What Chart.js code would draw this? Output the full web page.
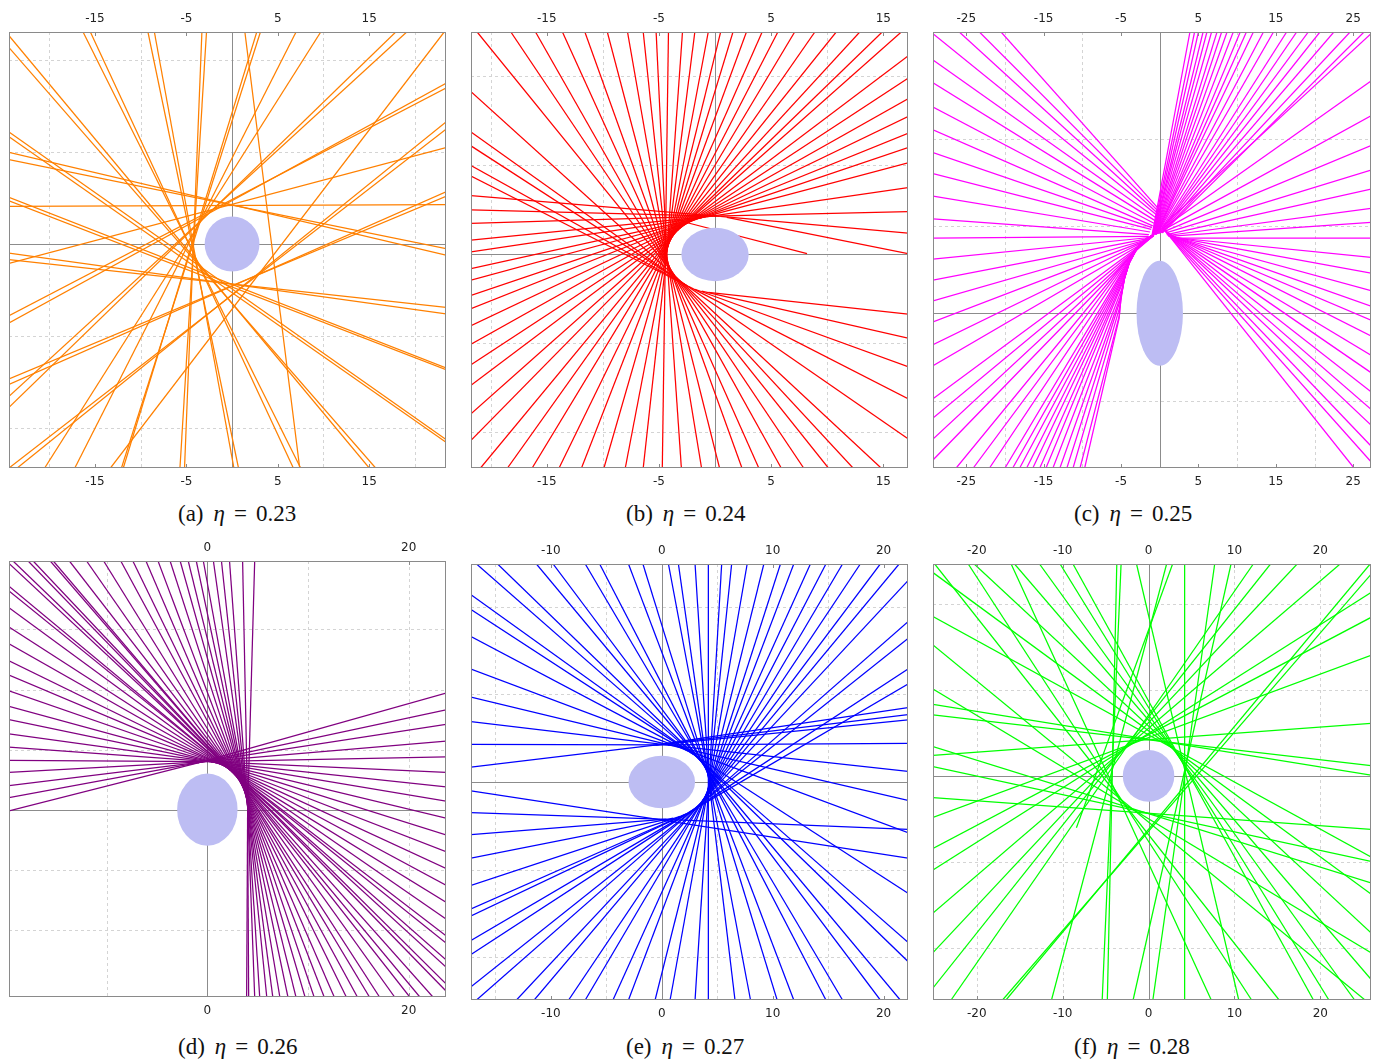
<!DOCTYPE html>
<html>
<head>
<meta charset="utf-8">
<script src="https://cdn.jsdelivr.net/npm/chart.js@4.4.1/dist/chart.umd.min.js"></script>
<style>
  body { margin: 0; background: #fff; width: 1379px; height: 1061px; position: relative; overflow: hidden; }
  .cap { position: absolute; font-family: "Liberation Serif", "DejaVu Serif", serif; font-size: 23px; line-height: 26px; white-space: nowrap; color: #111; }
  .cap .eta { font-style: italic; margin-left: 10px; }
  .cap .eq { margin-left: 9px; margin-right: 9px; }
</style>
</head>
<body>
<script>
// panel labels and parameter values
const panelKeys = ['a', 'b', 'c', 'd', 'e', 'f'];
const etaValues = ['0.23', '0.24', '0.25', '0.26', '0.27', '0.28'];

// axis limits (data units)
const xLimitsA = [-24.4, 23.4], yLimitsA = [-24.4, 23.1];
const xLimitsB = [-21.75, 17.2], yLimitsB = [-24.0, 25.0];
const xLimitsC = [-29.3, 27.3], yLimitsC = [-8.86, 16.1];
const xLimitsD = [-19.7, 23.7], yLimitsD = [-15.6, 20.7];
const xLimitsE = [-17.2, 22.2], yLimitsE = [-24.9, 24.9];
const xLimitsF = [-25.1, 25.9], yLimitsF = [-26.0, 24.6];

// tick labels (top and bottom frame)
const tickLabelsA = [-15, -5, 5, 15];
const tickLabelsB = [-15, -5, 5, 15];
const tickLabelsC = [-25, -15, -5, 5, 15, 25];
const tickLabelsD = [0, 20];
const tickLabelsE = [-10, 0, 10, 20];
const tickLabelsF = [-20, -10, 0, 10, 20];

// dashed grid lines
const gridXA = [-20, -10, 10, 20], gridYA = [-20, -10, 10, 20];
const gridXB = [-20, -10, 10], gridYB = [-20, -10, 10, 20];
const gridXC = [-20, -10, 10, 20], gridYC = [-5, 5, 10];
const gridXD = [-10, 10, 20], gridYD = [-10, -5, 5, 10, 15];
const gridXE = [-15, -5, 5, 15], gridYE = [-20, -10, 10, 20];
const gridXF = [-20, -10, 10, 20], gridYF = [-20, -10, 10, 20];

// shadow radius
const holeRadius = [3.0, 3.0, 3.0, 3.0, 3.0, 3.0];

// rays: flat lists x1,y1,x2,y2,...
const raysA = [
  [-16.3,23.1, 7.5,-24.4], [-15.5,23.1, 6.7,-24.4], [-9.2,23.1, 0.7,-24.4], [-8.5,23.1, 0.2,-24.4],
  [-3.3,23.1, -5.2,-24.4], [-2.8,23.1, -5.7,-24.4], [1.4,23.1, 7.4,-24.4], [2.7,23.1, -11.9,-24.4],
  [3.1,23.1, -12.1,-24.4], [7.0,23.1, -17.2,-24.4], [9.7,23.1, -20.5,-24.4], [17.9,23.1, -24.4,-17.8],
  [19.1,23.1, -24.4,-16.6], [23.2,23.1, -13.3,-24.4], [-24.4,22.7, 15.0,-24.4], [-24.4,21.4, 15.7,-24.4],
  [-24.4,12.2, 23.4,-21.3], [-24.4,11.7, 23.4,-21.6], [-24.4,5.1, 23.4,-13.5], [-24.4,4.7, 23.4,-13.7],
  [-24.4,4.1, 23.4,4.3], [-24.4,-1.0, 23.4,-7.6], [-24.4,-1.7, 23.4,-6.9], [-24.4,-2.1, 23.4,10.5],
  [-24.4,-7.8, 23.4,17.0], [-24.4,-8.6, 23.4,17.5], [23.4,13.3, -23.5,-24.4], [23.4,12.5, -24.4,-24.4],
  [23.4,5.7, -24.4,-15.3], [23.4,5.2, -24.4,-14.7], [-24.4,9.2, 23.4,-0.5], [-24.4,10.0, 23.4,-1.2]
];

const raysB = [
  [17.2,0.1, 1.05,4.17], [17.2,2.4, 0.46,4.28], [17.2,4.8, -0.14,4.30], [17.2,7.5, -0.78,4.23],
  [17.2,10.3, -1.36,4.08], [17.2,12.0, -1.68,3.96], [17.2,13.6, -1.94,3.84], [17.2,15.5, -2.23,3.68],
  [17.2,17.5, -2.49,3.50], [17.2,19.8, -2.74,3.32], [17.2,22.3, -2.97,3.11],
  [16.6,25, -3.20,2.87], [14.9,25, -3.33,2.72], [12.9,25, -3.47,2.54], [10.8,25, -3.63,2.31],
  [8.9,25, -3.76,2.08], [7.1,25, -3.88,1.85], [5.6,25, -3.98,1.63], [4.2,25, -4.06,1.42],
  [2.8,25, -4.13,1.20], [1.6,25, -4.18,1.01], [0.5,25, -4.22,0.82], [-0.6,25, -4.25,0.64],
  [-1.8,25, -4.28,0.43], [-2.9,25, -4.29,0.25],
  [-21.75,6.6, 0.43,4.28], [-21.75,5.0, 0.13,4.30], [-21.75,3.5, -0.17,4.30], [-21.75,1.6, -0.54,4.27],
  [-21.75,0.3, -0.79,4.23], [-21.75,-1.6, -1.16,4.14], [-21.75,-2.9, -1.39,4.07], [-21.75,-4.6, -1.69,3.95],
  [-21.75,-6.1, -1.94,3.84], [-21.75,-8.0, -2.22,3.68], [-21.75,-10.1, -2.49,3.50], [-21.75,-12.4, -2.75,3.30],
  [-21.75,-14.7, -2.97,3.11], [-21.75,-17.9, -3.23,2.84], [-21.75,-20.9, -3.41,2.62],
  [-20.9,-24, -3.59,2.36], [-18.5,-24, -3.74,2.12], [-16.3,-24, -3.87,1.87], [-13.9,-24, -4.00,1.57],
  [-11.9,-24, -4.10,1.29], [-9.9,-24, -4.19,0.97], [-8.0,-24, -4.25,0.66], [-6.4,-24, -4.28,0.38],
  [-4.15,25, -4.7,-24],
  [-5.25,25, -4.30,-0.17], [-6.4,25, -4.28,-0.36], [-7.8,25, -4.26,-0.59], [-9.6,25, -4.21,-0.88],
  [-11.6,25, -4.14,-1.18], [-13.6,25, -4.05,-1.46], [-16.0,25, -3.92,-1.77], [-18.2,25, -3.79,-2.03],
  [-21.2,25, -3.61,-2.33],
  [-21.75,18.3, -3.22,-2.84], [-21.75,13.75, -2.87,-3.20], [-21.75,12.2, -2.72,-3.33],
  [-21.75,10.0, -2.47,-3.52], [-21.75,8.8, -2.31,-3.63],
  [-3.0,-24, -4.29,-0.23], [-1.2,-24, -4.26,-0.55], [0.4,-24, -4.22,-0.84], [2.4,-24, -4.13,-1.19],
  [3.9,-24, -4.06,-1.43], [5.9,-24, -3.93,-1.73], [7.9,-24, -3.80,-2.02], [10.1,-24, -3.64,-2.30],
  [12.3,-24, -3.47,-2.55], [14.8,-24, -3.27,-2.79],
  [17.2,-20.7, -2.83,-3.24], [17.2,-16.2, -2.33,-3.61], [17.2,-12.6, -1.79,-3.91],
  [17.2,-9.4, -1.19,-4.13], [17.2,-6.7, -0.59,-4.26],
  [8.2,0.1, -3.5,3.9]
];

const raysC = [
  [-29.3,16.0, -0.3,5.6], [-29.3,14.5, -0.45,5.45], [-29.3,13.2, -0.6,5.3], [-29.3,11.8, -0.75,5.15],
  [-29.3,10.5, -0.9,5.0], [-29.3,9.2, -1.0,4.9], [-29.3,8.0, -1.1,4.8], [-29.3,6.7, -1.25,4.65],
  [-29.3,5.4, -1.4,4.5], [-29.3,4.3, -1.5,4.4], [-25.9,16.1, -0.2,5.7], [-23.3,16.1, -0.1,5.8],
  [-20.5,16.1, 0.0,5.9],
  [27.3,4.3, 1.5,4.3], [27.3,3.2, 1.4,4.35], [27.3,2.3, 1.3,4.4], [27.3,1.3, 1.2,4.45],
  [27.3,0.4, 1.1,4.5], [27.3,-0.4, 1.0,4.55], [27.3,-1.3, 0.9,4.6], [27.3,-2.4, 0.8,4.65],
  [27.3,-3.4, 0.7,4.7], [27.3,-4.5, 0.6,4.75], [27.3,-5.5, 0.5,4.8], [27.3,-6.4, 0.45,4.85],
  [27.3,-7.6, 0.35,4.9], [27.3,-8.5, 0.3,4.9], [25.1,-8.86, 0.2,5.0],
  [-9.7,-8.86, -5.25,-0.3, -5.05,0.9, -4.65,1.9, -3.95,2.9, -2.95,3.7, -1.85,4.2, -0.85,4.45],
  [-10.3,-8.86, -5.2,-0.1, -5.0,0.95, -4.6,1.95, -3.9,2.95, -2.9,3.75, -1.8,4.25, -0.8,4.5],
  [-11.2,-8.86, -5.1,0.45, -4.9,1.1, -4.55,2.0, -3.85,3.0, -2.85,3.75, -1.8,4.25, -0.8,4.5],
  [-12.0,-8.86, -5.0,0.9, -4.6,1.9, -3.95,2.9, -2.95,3.7, -1.85,4.2, -0.85,4.45],
  [-12.9,-8.86, -4.95,1.1, -4.55,2.0, -3.9,2.95, -2.9,3.75, -1.8,4.25, -0.75,4.5],
  [-13.8,-8.86, -4.8,1.5, -4.5,2.1, -3.85,3.0, -2.85,3.8, -1.75,4.25, -0.75,4.5],
  [-14.7,-8.86, -4.65,1.9, -3.95,2.9, -2.95,3.7, -1.85,4.2, -0.85,4.45],
  [-15.5,-8.86, -4.5,2.15, -3.9,2.95, -2.9,3.75, -1.8,4.25, -0.8,4.5],
  [-16.4,-8.86, -4.3,2.45, -3.85,3.0, -2.85,3.8, -1.75,4.25, -0.75,4.5],
  [-17.2,-8.86, -4.1,2.7, -2.95,3.7, -1.85,4.2, -0.85,4.45],
  [-18.1,-8.86, -3.95,2.9, -2.9,3.75, -1.8,4.25, -0.8,4.5],
  [-19.0,-8.86, -3.8,3.1, -2.85,3.8, -1.75,4.25, -0.75,4.5],
  [-20.0,-8.86, -3.6,3.3, -2.9,3.75, -1.8,4.25, -0.8,4.5],
  [-22.0,-8.86, -3.2,3.6, -1.85,4.2, -0.85,4.45],
  [-24.1,-8.86, -2.8,3.85, -1.8,4.25, -0.8,4.5],
  [-26.3,-8.86, -2.4,4.05, -1.75,4.25, -0.75,4.5],
  [-29.3,3.1, -1.0,4.35], [-29.3,1.9, -1.2,4.3, -0.8,4.45], [-29.3,0.7, -1.4,4.25, -0.8,4.45],
  [-29.3,-0.5, -1.6,4.2, -0.8,4.45], [-29.3,-1.8, -1.8,4.15, -0.8,4.45], [-29.3,-3.0, -2.0,4.05, -0.8,4.45],
  [-29.3,-4.9, -2.3,3.95, -0.8,4.45], [-29.3,-6.0, -2.5,3.85, -0.8,4.45], [-29.3,-7.2, -2.7,3.75, -0.8,4.45],
  [-29.3,-8.4, -2.9,3.65, -0.8,4.45],
  [3.9,16.1, -1.0,4.45], [4.5,16.1, -0.95,4.45], [5.0,16.1, -0.9,4.45], [5.6,16.1, -0.85,4.45],
  [6.1,16.1, -0.8,4.5], [6.7,16.1, -0.75,4.5], [7.4,16.1, -0.7,4.5], [8.0,16.1, -0.65,4.5],
  [8.7,16.1, -0.6,4.5], [9.5,16.1, -0.55,4.5], [10.4,16.1, -0.5,4.5], [11.2,16.1, -0.45,4.5],
  [12.1,16.1, -0.4,4.55], [13.4,16.1, -0.35,4.55], [14.7,16.1, -0.3,4.55], [16.4,16.1, -0.2,4.55],
  [17.7,16.1, -0.1,4.55], [19.2,16.1, 0.0,4.6], [20.7,16.1, 0.1,4.6], [22.5,16.1, 0.2,4.6],
  [24.6,16.1, 0.3,4.6], [26.4,16.1, 0.35,4.6],
  [27.3,16.0, 0.4,5.0], [27.3,13.3, 0.5,4.9], [27.3,11.3, 0.6,4.8], [27.3,9.6, 0.7,4.7],
  [27.3,8.2, 0.8,4.6], [27.3,7.1, 0.9,4.5], [27.3,6.0, 1.0,4.45], [27.3,5.2, 1.1,4.4]
];

const raysD = [
  [-19.7,20.5, 2.46,3.15], [-19.7,18.6, 2.29,3.28], [-19.7,18.2, 2.24,3.31], [-19.7,16.8, 2.10,3.41],
  [-19.7,15.2, 1.91,3.52], [-19.7,13.8, 1.72,3.61], [-19.7,12.4, 1.52,3.70], [-19.7,11.2, 1.34,3.77],
  [-19.7,9.9, 1.12,3.84], [-19.7,8.6, 0.89,3.90], [-19.7,7.5, 0.69,3.94], [-19.7,6.3, 0.46,3.97],
  [-19.7,5.2, 0.24,3.99], [-19.7,4.1, 0.02,4.0], [-19.7,3.1, -0.19,4.0], [-19.7,2.0, -0.41,3.98],
  [-19.7,1.0, -0.61,3.95], [-19.7,-0.1, -0.83,3.91],
  [-19.3,20.7, 2.51,3.11], [-17.8,20.7, 2.62,3.02], [-17.3,20.7, 2.66,2.99], [-15.6,20.7, 2.78,2.87],
  [-15.3,20.7, 2.80,2.85], [-13.7,20.7, 2.93,2.72], [-12.0,20.7, 3.08,2.56], [-10.3,20.7, 3.22,2.38],
  [-8.6,20.7, 3.36,2.17], [-7.4,20.7, 3.46,2.01], [-6.1,20.7, 3.56,1.82], [-4.9,20.7, 3.65,1.63],
  [-3.7,20.7, 3.73,1.44], [-2.7,20.7, 3.80,1.26], [-1.9,20.7, 3.84,1.12], [-1.1,20.7, 3.88,0.97],
  [-0.4,20.7, 3.91,0.85], [0.6,20.7, 3.95,0.65], [1.4,20.7, 3.97,0.50], [2.2,20.7, 3.98,0.35],
  [3.5,20.7, 4.0,0.1], [4.7,20.7, 4.0,-0.13],
  [23.7,9.7, -0.92,3.89], [23.7,8.3, -0.70,3.94], [23.7,7.1, -0.52,3.97], [23.7,5.7, -0.29,3.99],
  [23.7,4.4, -0.06,4.0], [23.7,3.1, 0.15,4.0], [23.7,1.9, 0.36,3.98], [23.7,0.7, 0.56,3.96],
  [23.7,-0.7, 0.79,3.92], [23.7,-2.1, 1.02,3.87], [23.7,-3.5, 1.24,3.80], [23.7,-4.9, 1.45,3.73],
  [23.7,-6.3, 1.65,3.65], [23.7,-7.7, 1.83,3.56], [23.7,-9.1, 2.01,3.46], [23.7,-10.5, 2.17,3.36],
  [23.7,-11.1, 2.23,3.32], [23.7,-12.5, 2.37,3.22], [23.7,-13.1, 2.43,3.18], [23.7,-14.5, 2.56,3.07],
  [23.7,-15.1, 2.61,3.03],
  [3.9,-15.6, 4.0,-0.03], [4.1,-15.6, 4.0,0.02], [4.7,-15.6, 4.0,0.18], [5.2,-15.6, 3.99,0.30],
  [5.9,-15.6, 3.97,0.47], [6.5,-15.6, 3.95,0.62], [7.2,-15.6, 3.92,0.79], [8.0,-15.6, 3.88,0.96],
  [8.8,-15.6, 3.84,1.14], [9.7,-15.6, 3.77,1.32], [10.6,-15.6, 3.71,1.50], [11.6,-15.6, 3.63,1.67],
  [12.6,-15.6, 3.55,1.84], [13.8,-15.6, 3.45,2.02], [14.9,-15.6, 3.35,2.18], [16.1,-15.6, 3.25,2.33],
  [17.1,-15.6, 3.17,2.44], [18.6,-15.6, 3.04,2.60], [20.1,-15.6, 2.92,2.73], [21.1,-15.6, 2.84,2.81],
  [22.4,-15.6, 2.74,2.91]
];

const raysE = [
  [-16.7,24.9, 3.16,2.84], [-14.8,24.9, 3.30,2.68], [-11.3,24.9, 3.55,2.34], [-9.8,24.9, 3.66,2.16],
  [-6.9,24.9, 3.85,1.80], [-5.6,24.9, 3.93,1.61], [-3.0,24.9, 4.07,1.21], [-1.7,24.9, 4.13,1.01],
  [0.6,24.9, 4.20,0.62], [1.5,24.9, 4.22,0.47], [3.0,24.9, 4.24,0.21], [5.4,24.9, 4.25,-0.19],
  [6.3,24.9, 4.24,-0.35], [7.7,24.9, 4.21,-0.58], [9.2,24.9, 4.17,-0.82], [10.7,24.9, 4.12,-1.05],
  [11.9,24.9, 4.07,-1.21], [13.4,24.9, 4.00,-1.43], [14.8,24.9, 3.93,-1.61], [16.3,24.9, 3.85,-1.80],
  [17.9,24.9, 3.76,-1.98], [19.7,24.9, 3.65,-2.17], [21.4,24.9, 3.55,-2.33],
  [4.2,24.9, 4.2,-24.9],
  [-16.7,-24.9, 3.16,-2.84], [-13.1,-24.9, 3.42,-2.53], [-11.5,-24.9, 3.54,-2.36], [-8.4,-24.9, 3.76,-1.99],
  [-6.9,-24.9, 3.85,-1.80], [-4.4,-24.9, 4.00,-1.43], [-3.0,-24.9, 4.07,-1.21], [-0.6,-24.9, 4.17,-0.83],
  [0.75,-24.9, 4.21,-0.60], [3.0,-24.9, 4.24,-0.21], [6.6,-24.9, 4.23,0.39], [8.0,-24.9, 4.20,0.63],
  [10.4,-24.9, 4.13,1.0], [11.9,-24.9, 4.07,1.21], [14.8,-24.9, 3.93,1.61], [16.3,-24.9, 3.85,1.80],
  [19.7,-24.9, 3.65,2.17], [21.5,-24.9, 3.55,2.34],
  [-17.2,21.4, 2.86,3.14], [-17.2,19.7, 2.71,3.27], [-17.2,16.6, 2.36,3.53], [-17.2,12.9, 1.83,3.84],
  [-17.2,9.7, 1.24,4.07], [-17.2,6.9, 0.64,4.20], [-17.2,4.3, 0.0,4.25], [-17.2,1.7, -0.64,4.20],
  [-17.2,-1.0, -0.81,-4.17], [-17.2,-3.5, -0.19,-4.25], [-17.2,-6.0, 0.42,-4.23], [-17.2,-8.7, 1.04,-4.12],
  [-17.2,-11.8, 1.65,-3.92], [-17.2,-14.5, 2.07,-3.71], [-17.2,-15.3, 2.20,-3.64], [-17.2,-18.1, 2.54,-3.41],
  [-17.2,-19.7, 2.71,-3.27], [-17.2,-23.4, 3.02,-2.99],
  [22.2,23.0, 3.42,-2.52], [22.2,18.3, 3.16,-2.84], [22.2,16.4, 3.03,-2.98], [22.2,12.9, 2.71,-3.27],
  [22.2,11.2, 2.53,-3.41], [22.2,8.5, -0.78,4.18], [22.2,7.7, -0.64,4.20], [22.2,7.1, -0.53,4.22],
  [22.2,4.4, -0.03,4.25], [22.2,1.2, 0.58,4.21], [22.2,-2.1, 1.20,4.08], [22.2,-5.4, -0.22,-4.24],
  [22.2,-5.8, 1.82,3.84], [22.2,-8.7, -0.82,-4.17], [22.2,-12.7, 2.70,3.28], [22.2,-18.3, 3.16,2.84],
  [22.2,-20.5, 3.29,2.69]
];

const raysF = [
  [4.2,24.6, 4.2,-26.0], [-3.7,24.6, -4.8,-26.0], [-3.2,24.6, -5.4,-26.0], [-1.4,24.6, 10.5,-26.0],
  [2.1,24.6, -11.3,-26.0], [2.8,24.6, -8.4,-6.0], [7.7,24.6, 0.5,-26.0], [-8.8,24.6, 19.2,-26.0],
  [-10.3,24.6, 21.0,-26.0], [-12.7,24.6, 24.0,-26.0], [-15.6,24.6, 25.9,-23.6], [-20.3,24.6, 25.9,-18.2],
  [-24.9,24.6, 15.2,-26.0], [-25.1,23.6, 25.9,-13.7], [-25.1,18.5, 25.9,-9.4], [-25.1,15.2, 25.2,-26.0],
  [-25.1,10.1, 25.9,-20.5], [-25.1,8.3, 25.9,0.1], [-25.1,7.1, 25.9,1.2], [-25.1,3.4, 25.9,-12.4],
  [-25.1,2.4, 25.9,6.1], [-25.1,1.1, 25.9,-9.9], [-25.1,-2.5, 25.9,-6.2], [-25.1,-4.8, 25.9,14.0],
  [-25.1,-8.4, 25.9,18.4], [-25.1,-10.9, 25.9,21.3], [25.8,24.6, -16.6,-26.0], [12.2,24.6, -23.0,-26.0],
  [14.2,24.6, -25.1,-24.6], [17.3,24.6, -25.1,-20.5], [22.3,24.6, -25.1,-15.9], [-16.0,24.6, 7.3,-26.0],
  [-21.0,24.6, 12.0,-26.0], [-17.0,-26.0, 25.9,23.4], [-1.8,-26.0, 9.6,24.6]
];

// styles and layout (kept apart from the data)
const lineColors = ['#ff8000', '#ff0000', '#ff00ff', '#800080', '#0000ff', '#00ff00'];
const plotBoxes = [
  { left: 9, top: 32, w: 437, h: 436 },
  { left: 471, top: 32, w: 437, h: 436 },
  { left: 933, top: 32, w: 438, h: 436 },
  { left: 9, top: 561, w: 437, h: 436 },
  { left: 471, top: 564, w: 437, h: 436 },
  { left: 933, top: 564, w: 438, h: 436 }
];
const captionPos = [
  { left: 178, top: 501 }, { left: 626, top: 501 }, { left: 1074, top: 501 },
  { left: 178, top: 1034 }, { left: 626, top: 1034 }, { left: 1074, top: 1034 }
];
const PAD_X = 16, AXIS_H = 28;

const panels = [
  { xr: xLimitsA, yr: yLimitsA, ticks: tickLabelsA, gx: gridXA, gy: gridYA, rays: raysA },
  { xr: xLimitsB, yr: yLimitsB, ticks: tickLabelsB, gx: gridXB, gy: gridYB, rays: raysB },
  { xr: xLimitsC, yr: yLimitsC, ticks: tickLabelsC, gx: gridXC, gy: gridYC, rays: raysC },
  { xr: xLimitsD, yr: yLimitsD, ticks: tickLabelsD, gx: gridXD, gy: gridYD, rays: raysD },
  { xr: xLimitsE, yr: yLimitsE, ticks: tickLabelsE, gx: gridXE, gy: gridYE, rays: raysE },
  { xr: xLimitsF, yr: yLimitsF, ticks: tickLabelsF, gx: gridXF, gy: gridYF, rays: raysF }
];

// grid, zero axes, shadow disc and frame, all placed through the chart scales
function framePlugin(p, r) {
  return {
    id: 'frame',
    beforeDatasetsDraw(chart) {
      const { ctx, chartArea: a } = chart;
      const xs = chart.scales.x, ys = chart.scales.y;
      ctx.save();
      ctx.lineWidth = 1;
      ctx.strokeStyle = '#d4d4d4';
      ctx.setLineDash([3, 3]);
      ctx.beginPath();
      p.gx.forEach(v => {
        const px = Math.round(xs.getPixelForValue(v)) + 0.5;
        ctx.moveTo(px, a.top); ctx.lineTo(px, a.bottom);
      });
      p.gy.forEach(v => {
        const py = Math.round(ys.getPixelForValue(v)) + 0.5;
        ctx.moveTo(a.left, py); ctx.lineTo(a.right, py);
      });
      ctx.stroke();
      ctx.setLineDash([]);
      ctx.strokeStyle = '#8c8c8c';
      ctx.beginPath();
      const x0 = Math.round(xs.getPixelForValue(0)) + 0.5;
      const y0 = Math.round(ys.getPixelForValue(0)) + 0.5;
      ctx.moveTo(x0, a.top); ctx.lineTo(x0, a.bottom);
      ctx.moveTo(a.left, y0); ctx.lineTo(a.right, y0);
      ctx.stroke();
      ctx.restore();
    },
    afterDatasetsDraw(chart) {
      const { ctx, chartArea: a } = chart;
      const xs = chart.scales.x, ys = chart.scales.y;
      const cx = xs.getPixelForValue(0), cy = ys.getPixelForValue(0);
      const rx = Math.abs(xs.getPixelForValue(r) - cx), ry = Math.abs(ys.getPixelForValue(r) - cy);
      ctx.save();
      ctx.fillStyle = '#bdbdf3';
      ctx.beginPath();
      ctx.ellipse(cx, cy, rx, ry, 0, 0, Math.PI * 2);
      ctx.fill();
      ctx.strokeStyle = '#8a8a8a';
      ctx.lineWidth = 1;
      ctx.strokeRect(Math.round(a.left) + 0.5, Math.round(a.top) + 0.5, Math.round(a.width) - 1, Math.round(a.height) - 1);
      ctx.beginPath();
      p.ticks.forEach(v => {
        const px = Math.round(xs.getPixelForValue(v)) + 0.5;
        ctx.moveTo(px, a.top); ctx.lineTo(px, a.top + 4);
        ctx.moveTo(px, a.bottom); ctx.lineTo(px, a.bottom - 4);
      });
      ctx.stroke();
      ctx.restore();
    }
  };
}

function tickAxis(p, position, pad) {
  return {
    type: 'linear', position, min: p.xr[0], max: p.xr[1],
    grid: { display: false, drawTicks: false }, border: { display: false },
    afterBuildTicks: s => { s.ticks = p.ticks.map(v => ({ value: v })); },
    afterFit: s => { s.height = AXIS_H; },
    ticks: {
      autoSkip: false, maxRotation: 0, padding: pad, color: '#222',
      font: { family: 'DejaVu Sans', size: 12 },
      callback: v => String(v)
    }
  };
}

panels.forEach((p, i) => {
  const box = plotBoxes[i];
  const canvas = document.createElement('canvas');
  const w = box.w + 2 * PAD_X, h = box.h + 2 * AXIS_H;
  canvas.width = w; canvas.height = h;
  canvas.style.cssText = `position:absolute;left:${box.left - PAD_X}px;top:${box.top - AXIS_H}px;width:${w}px;height:${h}px`;
  document.body.appendChild(canvas);

  const datasets = p.rays.map(r => {
    const pts = [];
    for (let k = 0; k < r.length; k += 2) pts.push({ x: r[k], y: r[k + 1] });
    return { data: pts, showLine: true, borderColor: lineColors[i], borderWidth: 1.25, pointRadius: 0, fill: false, tension: 0 };
  });

  new Chart(canvas, {
    type: 'scatter',
    data: { datasets },
    options: {
      responsive: false, animation: false, devicePixelRatio: 1, events: [],
      layout: { padding: { left: PAD_X, right: PAD_X, top: 0, bottom: 0 } },
      plugins: { legend: { display: false }, tooltip: { enabled: false } },
      scales: {
        x: tickAxis(p, 'bottom', 7),
        x2: tickAxis(p, 'top', 6),
        y: { type: 'linear', display: false, min: p.yr[0], max: p.yr[1] }
      }
    },
    plugins: [framePlugin(p, holeRadius[i])]
  });

  const cap = document.createElement('div');
  cap.className = 'cap';
  cap.style.left = captionPos[i].left + 'px';
  cap.style.top = captionPos[i].top + 'px';
  cap.innerHTML = `(${panelKeys[i]})<span class="eta">η</span><span class="eq">=</span>${etaValues[i]}`;
  document.body.appendChild(cap);
});
</script>
</body>
</html>
